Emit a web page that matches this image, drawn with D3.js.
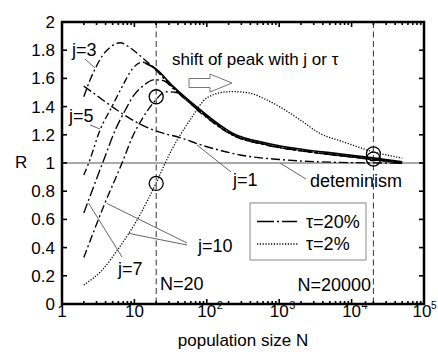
<!DOCTYPE html>
<html><head><meta charset="utf-8">
<script src="https://cdn.jsdelivr.net/npm/d3@7"></script>
<style>body{margin:0;background:#fff;} svg{display:block;} text{font-family:Arial,"Liberation Sans",Helvetica,sans-serif;fill:#000;}</style>
</head><body><svg id="c" width="438" height="352"></svg>
<script>
// ---------- data ----------
const yTicks = [0,0.2,0.4,0.6,0.8,1,1.2,1.4,1.6,1.8,2];
const yTickLabels = ["0","0.2","0.4","0.6","0.8","1","1.2","1.4","1.6","1.8","2"];
const xTicks = [1,10,100,1000,10000,100000];
const xTickBase = ["1","10","10","10","10","10"];
const xTickExp = ["","","2","3","4","5"];

// tau = 20%, j = 1
const j1N = [2, 3, 4.9, 11.5, 21.7, 42.6, 80.8, 152, 288, 1000, 5000, 50000];
const j1R = [1.545, 1.48, 1.40, 1.28, 1.22, 1.18, 1.13, 1.09, 1.057, 1.025, 1.006, 0.999];
// determinism
const detN = [14, 20, 34, 80, 230, 677, 2410, 5530, 19800, 50000];
const detR = [1.71, 1.665, 1.545, 1.38, 1.21, 1.14, 1.092, 1.07, 1.037, 1.008];
// tau = 20%, j = 3
const j3N = [2, 2.4, 2.88, 3.6, 4.6, 6.4, 8.3, 12.7, 18.5, 25, 34, 80, 230, 677, 2410, 5530, 19800, 50000];
const j3R = [1.47, 1.58, 1.67, 1.76, 1.82, 1.853, 1.825, 1.75, 1.675, 1.605, 1.535, 1.37, 1.2, 1.13, 1.083, 1.06, 1.027, 1.0];
// tau = 20%, j = 5
const j5N = [2, 2.34, 3.35, 4.9, 6.75, 9.3, 12.7, 17.5, 25, 34, 80, 230, 677, 2410, 5530, 19800, 50000];
const j5R = [0.915, 1.0, 1.234, 1.40, 1.54, 1.665, 1.715, 1.69, 1.605, 1.533, 1.367, 1.198, 1.128, 1.082, 1.059, 1.026, 0.999];
// tau = 20%, j = 7
const j7N = [2, 3.76, 5.45, 7.5, 9.8, 13.4, 18.5, 25, 34, 80, 230, 677, 2410, 5530, 19800, 50000];
const j7R = [0.645, 1.02, 1.234, 1.376, 1.48, 1.55, 1.59, 1.585, 1.53, 1.365, 1.197, 1.127, 1.081, 1.058, 1.025, 0.998];
// tau = 20%, j = 10
const j10N = [2, 3.92, 6.75, 9.3, 13.4, 19.2, 27, 38, 80, 230, 677, 2410, 5530, 19800, 50000];
const j10R = [0.33, 0.716, 1.0, 1.18, 1.33, 1.44, 1.505, 1.50, 1.36, 1.195, 1.126, 1.08, 1.057, 1.024, 0.997];
// tau = 2%, j = 10
const j10sN = [2, 3.57, 6.06, 10.9, 20, 31, 58.6, 99.6, 188, 232, 395, 675, 1960, 3650, 7700, 19800, 50000];
const j10sR = [0.135, 0.24, 0.395, 0.596, 0.86, 1.07, 1.305, 1.46, 1.505, 1.506, 1.495, 1.447, 1.305, 1.21, 1.15, 1.08, 1.035];
// marked points
const markN = [20, 20, 20000, 20000];
const markR = [1.47, 0.855, 1.065, 1.028];
const refN = [20, 20000];

// ---------- drawing ----------
const svg = d3.select("#c");
const L = 62, R = 424, T = 22, B = 304;
const x = d3.scaleLog().domain([1, 1e5]).range([L, R]);
const y = d3.scaleLinear().domain([0, 2]).range([B, T]);

const zip = (ns, rs) => ns.map((n, i) => ({N: n, R: rs[i]}));
const line = d3.line().x(d => x(d.N)).y(d => y(d.R)).curve(d3.curveMonotoneX);

// reference line R=1
svg.append("line").attr("x1", L).attr("x2", R).attr("y1", y(1)).attr("y2", y(1))
  .attr("stroke", "#555").attr("stroke-width", 1);
// dashed verticals
refN.forEach(n => svg.append("line").attr("x1", x(n)).attr("x2", x(n)).attr("y1", T).attr("y2", B)
  .attr("stroke", "#333").attr("stroke-width", 1).attr("stroke-dasharray", "6,3.5"));

// curves
const series = [
  {d: zip(detN, detR), dash: null, w: 1.7},
  {d: zip(j1N, j1R), dash: "9,3,2,3", w: 1.35},
  {d: zip(j3N, j3R), dash: "8,3,2,3", w: 1.35},
  {d: zip(j5N, j5R), dash: "7,3,2,3,2,3", w: 1.35},
  {d: zip(j7N, j7R), dash: "10,3,2,3", w: 1.35},
  {d: zip(j10N, j10R), dash: "8,3,2,3", w: 1.35},
  {d: zip(j10sN, j10sR), dash: "1.2,1.6", w: 1.3}
];
series.forEach(s => {
  const p = svg.append("path").attr("d", line(s.d)).attr("fill", "none")
    .attr("stroke", "#000").attr("stroke-width", s.w);
  if (s.dash) p.attr("stroke-dasharray", s.dash);
});

// circles
markN.forEach((n, i) => svg.append("circle").attr("cx", x(n)).attr("cy", y(markR[i])).attr("r", 7)
  .attr("fill", "none").attr("stroke", "#000").attr("stroke-width", 1.3));

// frame
svg.append("rect").attr("x", L).attr("y", T).attr("width", R - L).attr("height", B - T)
  .attr("fill", "none").attr("stroke", "#000").attr("stroke-width", 2.5);

// y ticks (inward both sides)
yTicks.forEach((v, i) => {
  const yy = y(v);
  if (i > 0 && i < yTicks.length - 1) {
    svg.append("line").attr("x1", L).attr("x2", L + 5).attr("y1", yy).attr("y2", yy).attr("stroke", "#000").attr("stroke-width", 1.6);
    svg.append("line").attr("x1", R - 5).attr("x2", R).attr("y1", yy).attr("y2", yy).attr("stroke", "#000").attr("stroke-width", 1.6);
  }
  svg.append("text").attr("x", 55).attr("y", yy + 6).attr("text-anchor", "end")
    .attr("font-size", 17).text(yTickLabels[i]);
});
// x ticks
for (let e = 0; e < 5; e++) {
  for (let m = 1; m < 10; m++) {
    const v = m * Math.pow(10, e);
    const xx = x(v);
    const len = m === 1 ? 5 : 3;
    if (e === 0 && m === 1) continue;
    svg.append("line").attr("x1", xx).attr("x2", xx).attr("y1", B).attr("y2", B - len).attr("stroke", "#000").attr("stroke-width", 1.6);
    svg.append("line").attr("x1", xx).attr("x2", xx).attr("y1", T).attr("y2", T + len).attr("stroke", "#000").attr("stroke-width", 1.6);
  }
}
xTicks.forEach((v, i) => {
  const last = i === xTicks.length - 1;
  const xx = x(v) - (last ? 2 : 0);
  svg.append("text").attr("x", xx).attr("y", 317).attr("text-anchor", "middle")
    .attr("font-size", 17).text(xTickBase[i]);
  if (xTickExp[i]) svg.append("text").attr("x", xx + (last ? 9 : 10)).attr("y", 309)
    .attr("font-size", last ? 10 : 11).text(xTickExp[i]);
});

// axis titles
svg.append("text").attr("x", 243).attr("y", 346).attr("text-anchor", "middle").attr("font-size", 17).text("population size N");
svg.append("text").attr("x", 15).attr("y", 168).attr("font-size", 17).text("R");

// annotations
const ann = (tx, ty, t, fs) => svg.append("text").attr("x", tx).attr("y", ty).attr("font-size", fs || 18).text(t);
const ptr = (a, b, c, d) => svg.append("line").attr("x1", a).attr("y1", b).attr("x2", c).attr("y2", d)
  .attr("stroke", "#666").attr("stroke-width", 1);
ann(72, 56, "j=3"); ptr(85, 59, 95, 68);
ann(69, 122, "j=5"); ptr(90, 125, 100, 129);
ann(233, 186, "j=1"); ptr(197, 145, 231, 172);
ann(310, 187, "deteminism"); ptr(280, 163, 306, 179);
ann(118, 275, "j=7"); ptr(88.5, 203, 122, 257);
ann(198, 252, "j=10"); ptr(106.7, 203.3, 187, 243); ptr(128.3, 233.3, 187, 245);
ann(160, 290, "N=20");
svg.append("text").attr("x", 371).attr("y", 291).attr("text-anchor", "end").attr("font-size", 18).text("N=20000");
ann(172, 65, "shift of peak with j or \u03C4", 17);

// hollow arrow
svg.append("polygon").attr("points", "189,78.5 210,78.5 210,74 232,83 210,92 210,87.5 189,87.5")
  .attr("fill", "#fff").attr("stroke", "#777").attr("stroke-width", 1);

// legend
svg.append("rect").attr("x", 250).attr("y", 203).attr("width", 116).attr("height", 57)
  .attr("fill", "#fff").attr("stroke", "#888").attr("stroke-width", 1);
svg.append("line").attr("x1", 257).attr("x2", 297).attr("y1", 221.5).attr("y2", 221.5)
  .attr("stroke", "#000").attr("stroke-width", 1.3).attr("stroke-dasharray", "17,3,2,3,15");
svg.append("line").attr("x1", 257).attr("x2", 298).attr("y1", 244).attr("y2", 244)
  .attr("stroke", "#000").attr("stroke-width", 1.3).attr("stroke-dasharray", "1.2,1.6");
ann(306, 228, "\u03C4=20%");
ann(306, 250, "\u03C4=2%");
</script></body></html>
